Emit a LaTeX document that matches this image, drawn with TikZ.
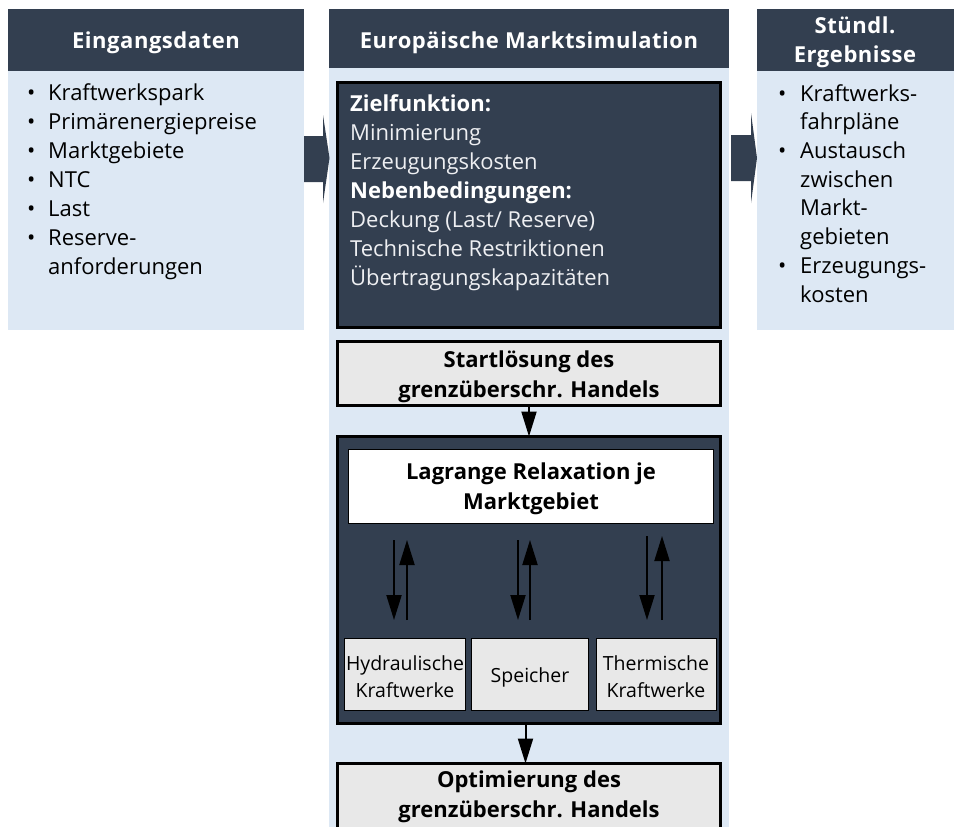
\documentclass[tikz,border=0pt]{standalone}
\usepackage{fontspec}
\setmainfont{Open Sans}
\usetikzlibrary{arrows.meta}
\definecolor{navy}{HTML}{333F50}
\definecolor{lblue}{HTML}{DDE8F4}
\definecolor{lgray}{HTML}{E8E8E8}
\definecolor{ltext}{HTML}{EEEFF2}
\newcommand{\bul}[1]{\makebox[#1][l]{\kern1pt•}}
\begin{document}
\begin{tikzpicture}[x=1pt,y=-1pt,
  panel/.style={inner sep=0pt,outer sep=0pt,anchor=north west,draw=none},
  thickbox/.style={inner sep=0pt,outer sep=0pt,anchor=north west,draw=black,line width=3pt},
  thinbox/.style={inner sep=0pt,outer sep=0pt,anchor=north west,draw=black,line width=1.5pt,fill=lgray},
  headtxt/.style={inner sep=0pt,anchor=base,align=center,text=white,font=\fontsize{22}{29}\selectfont\bfseries\addfontfeatures{LetterSpace=2.5}},
  listtxt/.style={inner sep=0pt,anchor=base west,align=left,text=black,font=\fontsize{22}{29}\selectfont},
  boldtxt/.style={inner sep=0pt,anchor=base,align=center,text=black,font=\fontsize{22}{29.5}\selectfont\bfseries},
  smalltxt/.style={inner sep=0pt,anchor=base,align=center,text=black,font=\fontsize{19.5}{27}\selectfont},
  arr/.style={line width=2pt,-{Triangle[length=25pt,width=15pt]}}
]
\useasboundingbox (0,0) rectangle (954,827);

% panels
\node[panel,fill=navy,minimum width=296pt,minimum height=62pt] (lhead) at (8,9) {};
\node[panel,fill=lblue,minimum width=296pt,minimum height=259pt] (lbody) at (8,71) {};
\node[panel,fill=navy,minimum width=400pt,minimum height=59pt] (mhead) at (329,9) {};
\node[panel,fill=lblue,minimum width=400pt,minimum height=780pt] (mbody) at (329,68) {};
\node[panel,fill=navy,minimum width=197pt,minimum height=62pt] (rhead) at (757,9) {};
\node[panel,fill=lblue,minimum width=197pt,minimum height=259pt] (rbody) at (757,71) {};

% big arrows
\fill[navy] (304,136) -- (323,136) -- (323,115) -- (329.5,158) -- (323,203) -- (323,182) -- (304,182) -- cycle;
\fill[navy] (731,135) -- (751,135) -- (751,113) -- (757,158) -- (751,203) -- (751,181) -- (731,181) -- cycle;

% header texts (anchor base = last line)
\node[headtxt] (lheadt) at (156,48) {Eingangsdaten};
\node[headtxt] (mheadt) at (529,48) {Europäische Marktsimulation};
\node[headtxt] (rheadt) at (855,62) {Stündl.\\Ergebnisse};

% list texts
\node[listtxt] (llist) at (26,274) {\bul{22pt}Kraftwerkspark\\
\bul{22pt}Primärenergiepreise\\
\bul{22pt}Marktgebiete\\
\bul{22pt}NTC\\
\bul{22pt}Last\\
\bul{22pt}Reserve-\\
\hspace*{22pt}anforderungen};
\node[listtxt,font=\fontsize{22}{28.7}\selectfont] (rlist) at (777,302) {\bul{23pt}Kraftwerks-\\
\hspace*{23pt}fahrpläne\\
\bul{23pt}Austausch\\
\hspace*{23pt}zwischen\\
\hspace*{23pt}Markt-\\
\hspace*{23pt}gebieten\\
\bul{23pt}Erzeugungs-\\
\hspace*{23pt}kosten};

% objective box
\node[thickbox,fill=navy,minimum width=383pt,minimum height=245pt] (ziel) at (337.5,82.5) {};
\node[listtxt,text=ltext] (zielt) at (350,285) {{\bfseries\color{white}Zielfunktion:}\\
Minimierung\\
Erzeugungskosten\\
{\bfseries\color{white}Nebenbedingungen:}\\
Deckung (Last/ Reserve)\\
Technische Restriktionen\\
Übertragungskapazitäten};

% start box
\node[thickbox,fill=lgray,minimum width=383pt,minimum height=64pt] (start) at (337.5,341.5) {};
\node[boldtxt,font=\fontsize{22}{30}\selectfont\bfseries] (startt) at (529,397) {Startlösung des\\grenzüberschr. Handels};

% lagrange box
\node[thickbox,fill=navy,minimum width=383pt,minimum height=287pt] (lag) at (337.5,436.5) {};
\node[thinbox,fill=white,minimum width=365pt,minimum height=74pt] (white) at (348.5,449.5) {};
\node[boldtxt] (whitet) at (531,509) {Lagrange Relaxation je\\Marktgebiet};

\node[thinbox,minimum width=121pt,minimum height=72pt] (hyd) at (344.5,638.5) {};
\node[thinbox,minimum width=117pt,minimum height=72pt] (spe) at (471.5,638.5) {};
\node[thinbox,minimum width=120pt,minimum height=72pt] (the) at (596.5,638.5) {};
\node[smalltxt] (hydt) at (405,697) {Hydraulische\\Kraftwerke};
\node[smalltxt] (spet) at (530,682) {Speicher};
\node[smalltxt] (thet) at (656,697) {Thermische\\Kraftwerke};

% optimisation box
\node[thickbox,fill=lgray,minimum width=383pt,minimum height=90pt] (opt) at (337.5,763.5) {};
\node[boldtxt] (optt) at (529,817) {Optimierung des\\grenzüberschr. Handels};

% connectors
\draw[arr] (start.south) -- (lag.north);
\draw[arr] ([xshift=-3.5pt]lag.south) -- ([xshift=-3.5pt]opt.north);

\coordinate (d1a) at (394,540); \coordinate (d1b) at (394,620);
\coordinate (u1a) at (407,620); \coordinate (u1b) at (407,540);
\coordinate (d2a) at (518,540); \coordinate (d2b) at (518,620);
\coordinate (u2a) at (530,620); \coordinate (u2b) at (530,540);
\coordinate (d3a) at (647,536); \coordinate (d3b) at (647,620);
\coordinate (u3a) at (662,620); \coordinate (u3b) at (662,536);
\foreach \p in {1,2,3}{
  \draw[arr] (d\p a) -- (d\p b);
  \draw[arr] (u\p a) -- (u\p b);
}
\end{tikzpicture}
\end{document}
